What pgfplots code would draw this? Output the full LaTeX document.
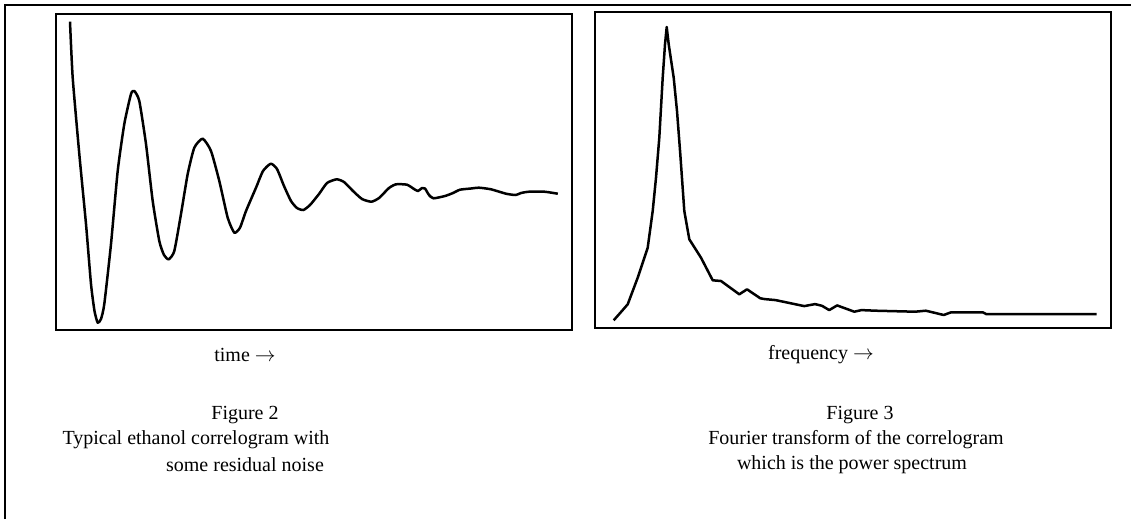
\documentclass[border=0pt]{standalone}
\usepackage{pgfplots}
\pgfplotsset{compat=1.18}
\usepackage{fontspec}
\setmainfont{Liberation Serif}
\begin{document}
\begin{tikzpicture}[x=1pt,y=1pt]
\path[use as bounding box] (0,0) rectangle (1131,-519);
% outer frame (top and left only)
\draw[line width=2pt] (5,-519) -- (5,-5) -- (1131,-5);
\pgfplotsset{panel/.style={
  scale only axis, width=516pt, height=316pt,
  y dir=reverse, xtick=\empty, ytick=\empty,
  axis line style={line width=2pt},
  anchor=outer north west}}
\begin{axis}[panel, at={(55pt,-13pt)}, xmin=55, xmax=571, ymin=13, ymax=329]
\addplot[black, line width=2.5pt, line join=round, smooth, tension=0.35] coordinates {
(69,20.7) (71.7,76.7) (78.3,153) (85,223) (90,283) (93.5,310) (96.7,321.7)
(100,318) (103.3,303) (110,243) (116.7,170) (123.3,123) (130,93) (133.3,90)
(138.3,100) (145,143) (151.7,200) (158.3,240) (163,254) (167.7,258.3)
(173.3,250) (180,213) (186.7,173) (193.3,146.7) (201.7,137.7) (210,150)
(218.3,180) (226.7,216.7) (233.3,231.7) (239,226.7) (245,210) (255,186.7)
(262,170) (269.8,162.7) (276,168) (283,185) (290,200) (296,207) (302.3,209)
(309,204) (318,193) (326,182) (335.6,178.3) (343,181) (352,190) (361,198)
(370.4,200.7) (378,197) (388,187) (395,183.3) (406,183.7) (413,188) (417,190)
(421,187) (424,187.5) (428,194) (432.5,197.3) (444,195) (452,192) (459,188.7)
(470,187.5) (478,186.7) (490,188.3) (505,192.7) (514.7,194) (520,192)
(528,190.7) (543.4,190.7) (556.8,192.7)};
\end{axis}
\begin{axis}[panel, at={(594pt,-11pt)}, xmin=594, xmax=1110, ymin=11, ymax=327]
\addplot[black, line width=2.5pt, line join=round] coordinates {
(612.7,319.3) (620,311) (626.7,303.3) (636.7,276.7) (646.7,246.7) (651.7,210)
(655,176.7) (658.3,136.7) (661.7,76.7) (664,43.3) (665.7,26) (667.7,43.3)
(672.7,76.7) (676,110) (679.3,153.3) (683.3,210) (688.3,238.3) (700,256.7)
(711.7,279.3) (720,280) (738.3,293.3) (746,288.3) (759.3,297.3) (763.9,298.1)
(774.6,299.1) (803.2,305.1) (814,303.1) (821,304.8) (828.2,309.1) (836.1,304.4)
(853.3,310.7) (860.4,309.1) (874.7,309.7) (914,310.7) (924.8,309.7) (932,311.4)
(942.7,314) (949.8,311.4) (982,311.4) (985,313) (1095.7,313)};
\end{axis}
\begin{scope}[font=\fontsize{20}{25}\selectfont]
\node at (245,-355) {time $\rightarrow$};
\node at (821,-355) {frequency $\rightarrow$};
\node at (245,-415) {Figure 2};
\node at (196,-440) {Typical ethanol correlogram with};
\node at (245,-465) {some residual noise};
\node at (860,-415) {Figure 3};
\node at (856,-440) {Fourier transform of the correlogram};
\node at (852,-465) {which is the power spectrum};
\end{scope}
\end{tikzpicture}
\end{document}
